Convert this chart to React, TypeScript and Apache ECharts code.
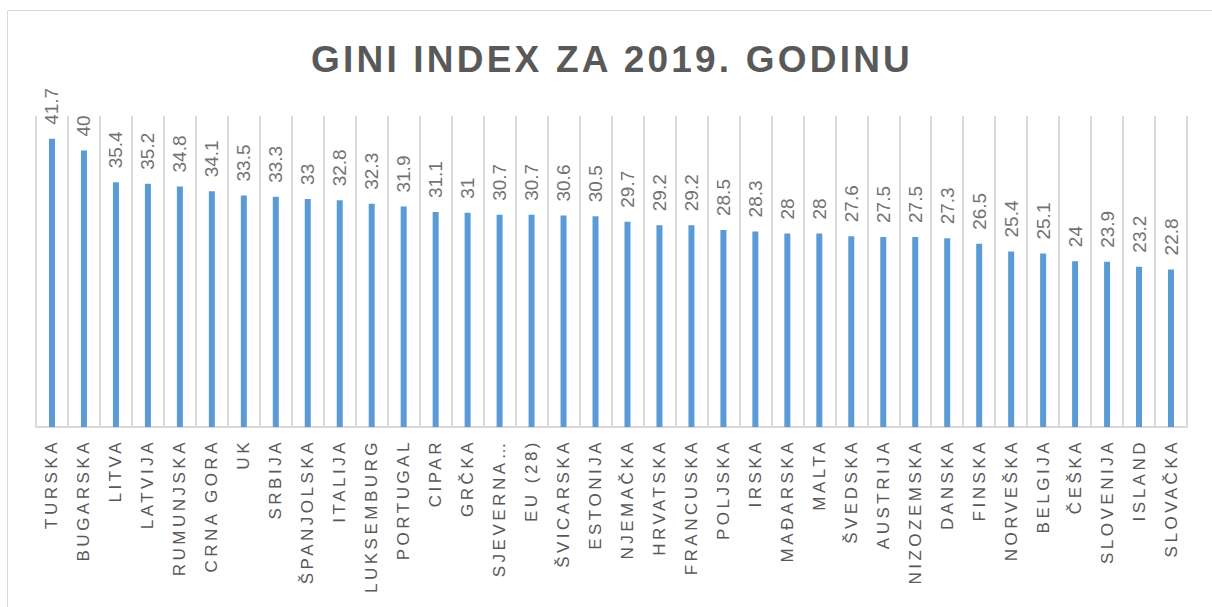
import React, { useEffect, useRef } from "react";
import * as echarts from "echarts";

const titleText = "GINI INDEX ZA 2019. GODINU";

const countries = [
  "TURSKA", "BUGARSKA", "LITVA", "LATVIJA", "RUMUNJSKA", "CRNA GORA", "UK", "SRBIJA",
  "ŠPANJOLSKA", "ITALIJA", "LUKSEMBURG", "PORTUGAL", "CIPAR", "GRČKA", "SJEVERNA MAKEDONIJA",
  "EU (28)", "ŠVICARSKA", "ESTONIJA", "NJEMAČKA", "HRVATSKA", "FRANCUSKA", "POLJSKA", "IRSKA",
  "MAĐARSKA", "MALTA", "ŠVEDSKA", "AUSTRIJA", "NIZOZEMSKA", "DANSKA", "FINSKA", "NORVEŠKA",
  "BELGIJA", "ČEŠKA", "SLOVENIJA", "ISLAND", "SLOVAČKA",
];

const giniValues = [
  41.7, 40, 35.4, 35.2, 34.8, 34.1, 33.5, 33.3, 33, 32.8, 32.3, 31.9, 31.1, 31, 30.7,
  30.7, 30.6, 30.5, 29.7, 29.2, 29.2, 28.5, 28.3, 28, 28, 27.6, 27.5, 27.5, 27.3, 26.5,
  25.4, 25.1, 24, 23.9, 23.2, 22.8,
];

const yMin = 0;
const yMax = 45;

const shortName = (v: string) => (v.length > 12 ? v.slice(0, 8) + "…" : v);

export default function App() {
  const ref = useRef<HTMLDivElement>(null);

  useEffect(() => {
    document.body.style.margin = "0";
    if (!ref.current) return;
    const chart = echarts.init(ref.current, null, { renderer: "svg" });
    const font = "'Liberation Sans', Arial, sans-serif";
    chart.setOption({
      animation: false,
      backgroundColor: "#ffffff",
      title: {
        text: titleText,
        left: 306,
        top: 36,
        textStyle: {
          fontFamily: font,
          fontSize: 37,
          fontWeight: "bold",
          color: "#595959",
        },
      },
      graphic: [
        {
          type: "rect",
          shape: { x: 7.5, y: 10.5, width: 1400, height: 800 },
          style: { fill: "none", stroke: "#d9d9d9", lineWidth: 1 },
          silent: true,
        },
      ],
      grid: { left: 36, right: 25, top: 116, bottom: 180, containLabel: false },
      xAxis: {
        type: "category",
        data: countries,
        axisLine: { show: true, lineStyle: { color: "#d9d9d9", width: 2 } },
        axisTick: { show: false },
        splitLine: { show: true, lineStyle: { color: "#d9d9d9", width: 2 } },
        axisLabel: {
          interval: 0,
          rotate: 90,
          margin: 12,
          fontFamily: font,
          fontSize: 17,
          color: "#595959",
          formatter: shortName,
        },
      },
      yAxis: {
        type: "value",
        min: yMin,
        max: yMax,
        show: false,
        splitLine: { show: false },
      },
      series: [
        {
          type: "bar",
          data: giniValues,
          barWidth: 6,
          itemStyle: { color: "#5b9bd5" },
          label: {
            show: true,
            position: "top",
            rotate: 90,
            align: "left",
            verticalAlign: "middle",
            distance: 14,
            fontFamily: font,
            fontSize: 19,
            color: "#737373",
          },
        },
      ],
    });

    const applySpacing = () => {
      if (!ref.current) return;
      const labels = new Set(countries.map(shortName));
      ref.current.querySelectorAll("text").forEach((t) => {
        const s = t.textContent || "";
        if (s === titleText) {
          t.setAttribute("letter-spacing", "3.2");
          (t as any).style.letterSpacing = "3.2px";
        } else if (labels.has(s)) {
          t.setAttribute("letter-spacing", "3.5");
          (t as any).style.letterSpacing = "3.5px";
        }
      });
    };
    applySpacing();
    chart.on("finished", applySpacing);

    return () => chart.dispose();
  }, []);

  return <div id="gini-chart" ref={ref} style={{ width: 1212, height: 607 }} />;
}
